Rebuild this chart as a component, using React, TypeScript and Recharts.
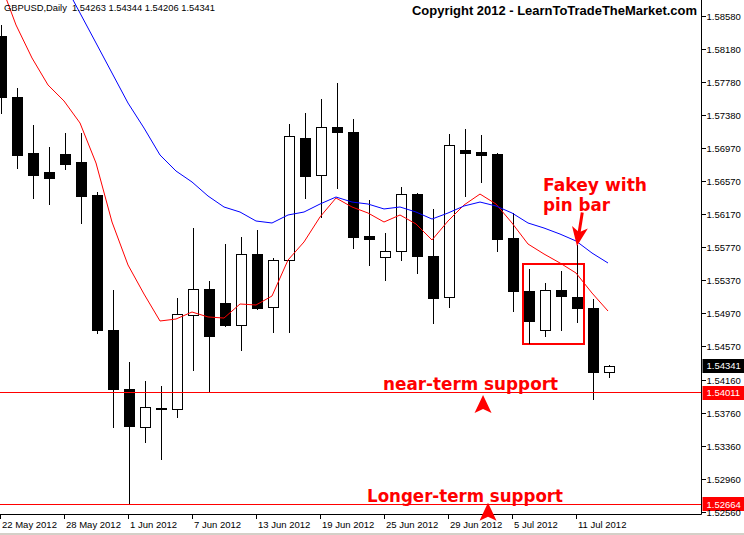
import React from 'react';
import {
  ComposedChart,
  Bar,
  Line,
  XAxis,
  YAxis,
  ReferenceLine,
  ReferenceDot,
  ReferenceArea,
} from 'recharts';

// GBPUSD daily, 22 May - 13 Jul 2012
const dates = [
  '22 May 2012', '23 May 2012', '24 May 2012', '25 May 2012', '28 May 2012', '29 May 2012',
  '30 May 2012', '31 May 2012', '1 Jun 2012', '4 Jun 2012', '5 Jun 2012', '6 Jun 2012',
  '7 Jun 2012', '8 Jun 2012', '11 Jun 2012', '12 Jun 2012', '13 Jun 2012', '14 Jun 2012',
  '15 Jun 2012', '18 Jun 2012', '19 Jun 2012', '20 Jun 2012', '21 Jun 2012', '22 Jun 2012',
  '25 Jun 2012', '26 Jun 2012', '27 Jun 2012', '28 Jun 2012', '29 Jun 2012', '2 Jul 2012',
  '3 Jul 2012', '4 Jul 2012', '5 Jul 2012', '6 Jul 2012', '9 Jul 2012', '10 Jul 2012',
  '11 Jul 2012', '12 Jul 2012', '13 Jul 2012',
];

const opens = [
  1.58338, 1.57598, 1.56919, 1.56689, 1.56907, 1.5681, 1.5641, 1.54774, 1.54059, 1.53598,
  1.53822, 1.53816, 1.54956, 1.55271, 1.55101, 1.54835, 1.55695, 1.55053, 1.55622, 1.57101,
  1.56653, 1.57235, 1.57174, 1.55913, 1.55659, 1.55732, 1.56422, 1.55671, 1.55174, 1.56956,
  1.56932, 1.56907, 1.55889, 1.55247, 1.54774, 1.55259, 1.55174, 1.55041, 1.54263,
];
const highs = [
  1.58471, 1.57707, 1.57259, 1.56992, 1.57162, 1.57162, 1.56447, 1.55259, 1.54386, 1.54156,
  1.54095, 1.55162, 1.5601, 1.55368, 1.55816, 1.55901, 1.55986, 1.55647, 1.57271, 1.57404,
  1.57574, 1.57768, 1.57332, 1.5635, 1.5595, 1.56507, 1.5643, 1.56241, 1.5715, 1.5721,
  1.57138, 1.56919, 1.56192, 1.55513, 1.55344, 1.55489, 1.55804, 1.5515, 1.54344,
];
const lows = [
  1.57404, 1.56738, 1.56374, 1.56301, 1.56725, 1.56071, 1.54738, 1.53598, 1.52664, 1.53416,
  1.5321, 1.53719, 1.54289, 1.54035, 1.54822, 1.54532, 1.5503, 1.5475, 1.5475, 1.56374,
  1.56144, 1.56495, 1.55768, 1.55562, 1.5538, 1.55622, 1.55465, 1.54859, 1.55053, 1.56398,
  1.56568, 1.55732, 1.55004, 1.54616, 1.54701, 1.54774, 1.54871, 1.53938, 1.54206,
];
const closes = [
  1.57598, 1.56895, 1.56653, 1.56616, 1.56786, 1.56398, 1.54774, 1.54059, 1.5361, 1.53841,
  1.53828, 1.54968, 1.55271, 1.54701, 1.54835, 1.55695, 1.55041, 1.55622, 1.57125, 1.56641,
  1.57235, 1.57174, 1.55901, 1.55877, 1.55732, 1.56422, 1.55671, 1.55162, 1.57016, 1.56919,
  1.56895, 1.55877, 1.55247, 1.54883, 1.55259, 1.55186, 1.55041, 1.54265, 1.54341,
];

// fast (red) and slow (blue) moving averages
const fastMa = [
  1.58992, 1.58471, 1.58071, 1.57744, 1.5755, 1.57283, 1.56798, 1.56083, 1.55562, 1.5521,
  1.54883, 1.54907, 1.54992, 1.54932, 1.54919, 1.55089, 1.55077, 1.55186, 1.55622, 1.55841,
  1.56144, 1.56374, 1.56265, 1.56192, 1.56083, 1.56168, 1.56059, 1.55865, 1.56095, 1.56289,
  1.56422, 1.56301, 1.56071, 1.55816, 1.55695, 1.55586, 1.55465, 1.55222, 1.55004,
];
const slowMa = [
  null, null, null, null, 1.5898, 1.58616, 1.58253, 1.57889, 1.57525, 1.57222,
  1.56895, 1.56701, 1.56568, 1.56398, 1.56265, 1.56204, 1.56095, 1.56071, 1.56168, 1.56204,
  1.56301, 1.56386, 1.56325, 1.56301, 1.56241, 1.56265, 1.56204, 1.56119, 1.56192, 1.56277,
  1.56325, 1.56277, 1.56192, 1.56071, 1.5601, 1.55937, 1.55853, 1.55707, 1.55586,
];

const priceTicks = [
  1.5858, 1.5818, 1.5778, 1.5738, 1.5697, 1.5657, 1.5617, 1.5577,
  1.5537, 1.5497, 1.5457, 1.5416, 1.5376, 1.5336, 1.5296, 1.5256,
];
const dateTicks = [0, 4, 8, 12, 16, 20, 24, 28, 32, 36];

const nearSupport = 1.54011;
const longSupport = 1.52664;
const lastBar = { open: 1.54263, high: 1.54344, low: 1.54206, close: 1.54341 };

const W = 744;
const H = 535;
const AXIS_W = 42.5;
const AXIS_H = 20.5;
const BAR_PX = 16;
const X_MAX = (W - AXIS_W) / BAR_PX;
const Y_TOP = 1.5877394;
const Y_BOTTOM = 1.5253758;
const FONT = '"Liberation Sans", Arial, sans-serif';
const NOTE_FONT = '"DejaVu Sans", Verdana, sans-serif';

const data = dates.map((date, i) => ({
  i,
  date,
  open: opens[i],
  high: highs[i],
  low: lows[i],
  close: closes[i],
  range: [lows[i], highs[i]],
  fast: fastMa[i],
  slow: slowMa[i],
}));

const Candle = (props: any) => {
  const { x, y, width, height, payload } = props;
  const { open, high, low, close } = payload;
  if (!(high > low)) return null;
  const top = Math.min(y, y + height);
  const h = Math.abs(height);
  const py = (v: number) => top + ((high - v) / (high - low)) * h;
  const c = Math.round(x + width / 2);
  const up = close >= open;
  const bt = Math.round(py(Math.max(open, close))) + 0.5;
  const bb = Math.round(py(Math.min(open, close))) + 0.5;
  return (
    <g>
      <line x1={c + 0.5} x2={c + 0.5} y1={Math.round(top)} y2={Math.round(top + h) + 1} stroke="#000" strokeWidth={1} />
      <rect x={c - 4.5} y={bt} width={10} height={Math.max(bb - bt, 0)} fill={up ? '#fff' : '#000'} stroke="#000" strokeWidth={1} />
    </g>
  );
};

const PriceTick = (props: any) => {
  const { x, y, payload } = props;
  return (
    <text x={x} y={y} dy={3.5} fontSize={9.5} fontFamily={FONT} fill="#000" textAnchor="start">
      {Number(payload.value).toFixed(5)}
    </text>
  );
};

const DateTick = (props: any) => {
  const { x, y, payload } = props;
  return (
    <text x={x + 2} y={y + 9.5} fontSize={9.5} fontFamily={FONT} fill="#000" textAnchor="start">
      {dates[payload.value]}
    </text>
  );
};

const priceTag = (label: string, bg: string) => (p: any) => (
  <g>
    <rect x={p.cx + 1} y={Math.round(p.cy) - 7} width={42} height={14} fill={bg} />
    <text x={p.cx + 5} y={p.cy + 3.5} fontSize={9.5} fontFamily={FONT} fill="#fff">
      {label}
    </text>
  </g>
);

const noteText = (lines: string[], widths: number[]) => (p: any) => (
  <g>
    {lines.map((t, k) => (
      <text
        key={t}
        x={p.cx}
        y={p.cy + k * 20}
        fontSize={18}
        fontWeight="bold"
        fontFamily={NOTE_FONT}
        fill="#ff0000"
        textLength={widths[k]}
        lengthAdjust="spacingAndGlyphs"
      >
        {t}
      </text>
    ))}
  </g>
);

const upArrow = (p: any) => (
  <path d={`M${p.cx},${p.cy} L${p.cx - 8.5},${p.cy + 18} L${p.cx},${p.cy + 14} L${p.cx + 8.5},${p.cy + 18} Z`} fill="#ff0000" />
);

const downArrow = (p: any) => (
  <g transform={`rotate(9 ${p.cx} ${p.cy})`}>
    <line x1={p.cx} y1={p.cy - 12} x2={p.cx} y2={p.cy - 34} stroke="#ff0000" strokeWidth={3} />
    <path d={`M${p.cx},${p.cy} L${p.cx - 8},${p.cy - 19} L${p.cx},${p.cy - 14} L${p.cx + 8},${p.cy - 19} Z`} fill="#ff0000" />
  </g>
);

const header = (p: any) => (
  <g>
    <text x={p.cx + 4} y={p.cy + 11} fontSize={9.5} fontFamily={FONT} fill="#000" textLength={211} lengthAdjust="spacingAndGlyphs" xmlSpace="preserve">
      {`GBPUSD,Daily  ${lastBar.open.toFixed(5)} ${lastBar.high.toFixed(5)} ${lastBar.low.toFixed(5)} ${lastBar.close.toFixed(5)}`}
    </text>
    <text x={p.cx + 412} y={p.cy + 15} fontSize={13} fontWeight="bold" fontFamily={FONT} fill="#000" textLength={285} lengthAdjust="spacingAndGlyphs">
      Copyright 2012 - LearnToTradeTheMarket.com
    </text>
  </g>
);

export default function App() {
  return (
    <div style={{ position: 'absolute', left: 0, top: 0, width: W, height: H, background: '#fff' }}>
      <ComposedChart
        width={W}
        height={H}
        data={data}
        margin={{ top: 0, right: 0, bottom: 0, left: 0 }}
        style={{ fontFamily: FONT }}
      >
        <XAxis
          dataKey="i"
          type="number"
          domain={[0, X_MAX]}
          ticks={dateTicks}
          interval={0}
          height={AXIS_H}
          tickSize={4}
          tickMargin={0}
          allowDataOverflow
          axisLine={{ stroke: '#000' }}
          tickLine={{ stroke: '#000', shapeRendering: 'crispEdges' }}
          tick={<DateTick />}
        />
        <YAxis
          orientation="right"
          type="number"
          domain={[Y_BOTTOM, Y_TOP]}
          ticks={priceTicks}
          interval={0}
          width={AXIS_W}
          tickSize={4}
          tickMargin={1}
          allowDataOverflow
          axisLine={{ stroke: '#000' }}
          tickLine={{ stroke: '#000', shapeRendering: 'crispEdges' }}
          tick={<PriceTick />}
        />
        <ReferenceLine y={nearSupport} stroke="#ff0000" strokeWidth={1} shapeRendering="crispEdges" />
        <ReferenceLine y={longSupport} stroke="#ff0000" strokeWidth={1} shapeRendering="crispEdges" />
        <Bar dataKey="range" barSize={11} shape={<Candle />} isAnimationActive={false} />
        <Line type="linear" dataKey="fast" stroke="#ff0000" strokeWidth={1} dot={false} activeDot={false} isAnimationActive={false} />
        <Line type="linear" dataKey="slow" stroke="#0000ff" strokeWidth={1} dot={false} activeDot={false} isAnimationActive={false} />
        <ReferenceArea x1={32.69} x2={36.5} y1={1.54604} y2={1.55574} fill="none" stroke="#ff0000" strokeWidth={2} shapeRendering="crispEdges" ifOverflow="visible" />
        <ReferenceDot x={0} y={Y_TOP} shape={header} ifOverflow="visible" />
        <ReferenceDot x={33.94} y={1.56459} shape={noteText(['Fakey with', 'pin bar'], [104, 67])} ifOverflow="visible" />
        <ReferenceDot x={36.06} y={1.55792} shape={downArrow} ifOverflow="visible" />
        <ReferenceDot x={23.94} y={1.54047} shape={noteText(['near-term support'], [175])} ifOverflow="visible" />
        <ReferenceDot x={30.19} y={1.53986} shape={upArrow} ifOverflow="visible" />
        <ReferenceDot x={22.94} y={1.52689} shape={noteText(['Longer-term support'], [196])} ifOverflow="visible" />
        <ReferenceDot x={30.5} y={1.52681} shape={upArrow} ifOverflow="visible" />
        <ReferenceDot x={X_MAX} y={lastBar.close} shape={priceTag(lastBar.close.toFixed(5), '#000')} ifOverflow="visible" />
        <ReferenceDot x={X_MAX} y={nearSupport} shape={priceTag(nearSupport.toFixed(5), '#ff0000')} ifOverflow="visible" />
        <ReferenceDot x={X_MAX} y={longSupport} shape={priceTag(longSupport.toFixed(5), '#ff0000')} ifOverflow="visible" />
      </ComposedChart>
      <div style={{ position: 'absolute', left: 0, top: 533, width: W, height: 2, background: '#d4d0c8' }} />
    </div>
  );
}
